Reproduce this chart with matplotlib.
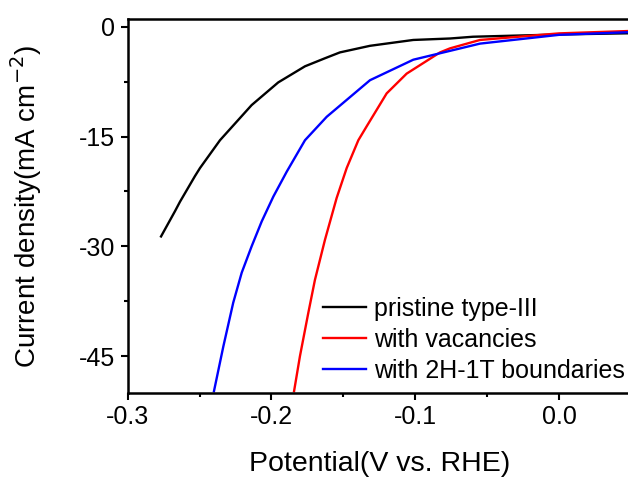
import matplotlib
matplotlib.use("Agg")
import matplotlib.pyplot as plt
from matplotlib.ticker import MultipleLocator

plt.rcParams["font.family"] = ["Liberation Sans", "DejaVu Sans"]
plt.rcParams["axes.unicode_minus"] = False

# Polarization curves
pristine_v = [-0.2768, -0.2671, -0.2636, -0.2532, -0.2497, -0.2358, -0.2138, -0.1953,
              -0.1767, -0.1628, -0.1524, -0.1315, -0.1014, -0.0758, -0.0599, 0.0, 0.06]
pristine_j = [-28.65, -25.2, -23.9, -20.4, -19.3, -15.5, -10.7, -7.6,
              -5.4, -4.3, -3.5, -2.6, -1.8, -1.6, -1.36, -1.05, -0.85]

vacancy_v = [-0.1843, -0.1802, -0.1744, -0.1698, -0.1628, -0.1547, -0.1477, -0.1396,
             -0.1338, -0.1199, -0.106, -0.0828, -0.0759, -0.055, 0.0, 0.06]
vacancy_j = [-49.8, -45.0, -39.1, -34.6, -29.1, -23.4, -19.3, -15.5,
             -13.6, -9.1, -6.4, -3.5, -2.95, -1.8, -0.9, -0.5]

boundary_v = [-0.2400, -0.2335, -0.2266, -0.2207, -0.2138, -0.2068, -0.1987, -0.1894,
              -0.1767, -0.1616, -0.1315, -0.1014, -0.0782, -0.055, 0.0, 0.06]
boundary_j = [-49.8, -43.7, -37.7, -33.6, -30.0, -26.6, -23.2, -19.8,
              -15.5, -12.3, -7.3, -4.5, -3.4, -2.3, -1.1, -0.65]

labels = ["pristine type-III", "with vacancies", "with 2H-1T boundaries"]
colors = ["black", "red", "blue"]

fig = plt.figure(figsize=(6.28, 4.83), dpi=100)
ax = fig.add_axes([0.2033, 0.187, 0.8015, 0.7727])

for v, j, lab, c in zip([pristine_v, vacancy_v, boundary_v],
                        [pristine_j, vacancy_j, boundary_j], labels, colors):
    ax.plot(v, j, color=c, lw=1.7, label=lab)

ax.set_xlim(-0.3, 0.05)
ax.set_ylim(-50, 1)
ax.xaxis.set_major_locator(MultipleLocator(0.1))
ax.xaxis.set_minor_locator(MultipleLocator(0.05))
ax.yaxis.set_major_locator(MultipleLocator(15))
ax.yaxis.set_minor_locator(MultipleLocator(7.5))
ax.tick_params(which="major", direction="out", length=5, width=1.5, labelsize=18, pad=4)
ax.tick_params(which="minor", direction="out", length=3, width=1.5)
for s in ax.spines.values():
    s.set_linewidth(1.8)

ax.set_xlabel("Potential(V vs. RHE)", fontsize=20.5, labelpad=16)
ax.set_ylabel("Current density(mA cm$^{-2}$)", fontsize=20, labelpad=25)

ax.legend(loc="upper left", bbox_to_anchor=(0.514, 0.385), bbox_transform=fig.transFigure,
          frameon=False, fontsize=18, borderpad=0, borderaxespad=0,
          handlelength=1.72, handletextpad=0.32, labelspacing=0.28)

fig.savefig("out.png", dpi=100)
